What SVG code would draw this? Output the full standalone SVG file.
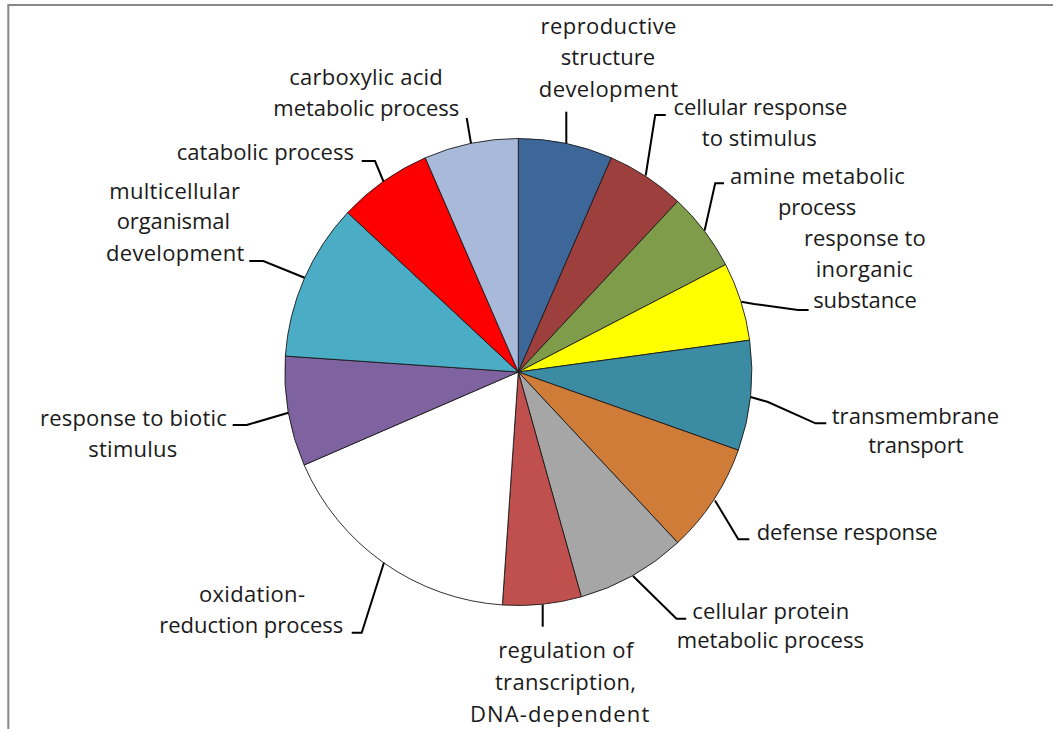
<svg xmlns="http://www.w3.org/2000/svg" width="1053" height="729" viewBox="0 0 1053 729">
<style>
.s{stroke:#1a1a1a;stroke-width:0.9;stroke-linejoin:round}
.t{font-family:"Open Sans","Liberation Sans",sans-serif;font-size:22px;fill:#1a1a1a}
.l{fill:none;stroke:#000;stroke-width:2;stroke-linejoin:miter}
</style>
<rect x="0" y="0" width="1053" height="729" fill="#fff"/>
<path d="M8.3,729 V5 H1053" fill="none" stroke="#878787" stroke-width="2"/>
<g id="reproductive-structure-development">
<path class="s" fill="#3D6699" d="M518.3,372 L518.3,138.5 A233.5,233.5 0 0 1 611.33,157.83 Z"/>
<text class="t" x="540.6" y="34" textLength="135.8" lengthAdjust="spacing">reproductive</text>
<text class="t" x="560.7" y="65" textLength="94.5" lengthAdjust="spacing">structure</text>
<text class="t" x="538.8" y="96.5" textLength="139.3" lengthAdjust="spacing">development</text>
</g>
<g id="cellular-response-to-stimulus">
<path class="s" fill="#9D403D" d="M518.3,372 L611.33,157.83 A233.5,233.5 0 0 1 677.68,201.35 Z"/>
<text class="t" x="673.5" y="115" textLength="173.9" lengthAdjust="spacing">cellular response</text>
<text class="t" x="701.8" y="145.5" textLength="115" lengthAdjust="spacing">to stimulus</text>
</g>
<g id="amine-metabolic-process">
<path class="s" fill="#7E9C4A" d="M518.3,372 L677.68,201.35 A233.5,233.5 0 0 1 725.62,264.57 Z"/>
<text class="t" x="730" y="184.3" textLength="174.9" lengthAdjust="spacing">amine metabolic</text>
<text class="t" x="778" y="215" textLength="78.3" lengthAdjust="spacing">process</text>
</g>
<g id="response-to-inorganic-substance">
<path class="s" fill="#FFFF00" d="M518.3,372 L725.62,264.57 A233.5,233.5 0 0 1 749.63,340.2 Z"/>
<text class="t" x="804" y="246" textLength="121.7" lengthAdjust="spacing">response to</text>
<text class="t" x="815.7" y="276.7" textLength="97" lengthAdjust="spacing">inorganic</text>
<text class="t" x="813.2" y="308.3" textLength="103.7" lengthAdjust="spacing">substance</text>
</g>
<g id="transmembrane-transport">
<path class="s" fill="#3B8BA3" d="M518.3,372 L749.63,340.2 A233.5,233.5 0 0 1 738.32,450.19 Z"/>
<text class="t" x="831.7" y="423.5" textLength="167.3" lengthAdjust="spacing">transmembrane</text>
<text class="t" x="868.3" y="452.7" textLength="95" lengthAdjust="spacing">transport</text>
</g>
<g id="defense-response">
<path class="s" fill="#CE7C38" d="M518.3,372 L738.32,450.19 A233.5,233.5 0 0 1 677.68,542.65 Z"/>
<text class="t" x="756.7" y="540" textLength="181" lengthAdjust="spacing">defense response</text>
</g>
<g id="cellular-protein-metabolic-process">
<path class="s" fill="#A6A6A6" d="M518.3,372 L677.68,542.65 A233.5,233.5 0 0 1 581.3,596.84 Z"/>
<text class="t" x="692.3" y="619.3" textLength="157" lengthAdjust="spacing">cellular protein</text>
<text class="t" x="676.7" y="648.3" textLength="187.3" lengthAdjust="spacing">metabolic process</text>
</g>
<g id="regulation-of-transcription">
<path class="s" fill="#C0504D" d="M518.3,372 L581.3,596.84 A233.5,233.5 0 0 1 502.37,604.96 Z"/>
<text class="t" x="498.3" y="658.3" textLength="135" lengthAdjust="spacing">regulation of</text>
<text class="t" x="495" y="690" textLength="141" lengthAdjust="spacing">transcription,</text>
<text class="t" x="470" y="721.7" textLength="179.3" lengthAdjust="spacing">DNA-dependent</text>
</g>
<g id="oxidation-reduction-process">
<path class="s" fill="#FFFFFF" d="M518.3,372 L502.37,604.96 A233.5,233.5 0 0 1 304.13,465.03 Z"/>
<text class="t" x="199" y="601.7" textLength="106" lengthAdjust="spacing">oxidation-</text>
<text class="t" x="159.3" y="632.7" textLength="184" lengthAdjust="spacing">reduction process</text>
</g>
<g id="response-to-biotic-stimulus">
<path class="s" fill="#7F62A0" d="M518.3,372 L304.13,465.03 A233.5,233.5 0 0 1 285.34,356.07 Z"/>
<text class="t" x="40" y="426" textLength="186.7" lengthAdjust="spacing">response to biotic</text>
<text class="t" x="88.3" y="456.7" textLength="89" lengthAdjust="spacing">stimulus</text>
</g>
<g id="multicellular-organismal-development">
<path class="s" fill="#4BACC6" d="M518.3,372 L285.34,356.07 A233.5,233.5 0 0 1 347.65,212.62 Z"/>
<text class="t" x="109.3" y="198.5" textLength="130.7" lengthAdjust="spacing">multicellular</text>
<text class="t" x="116.7" y="228.5" textLength="113.3" lengthAdjust="spacing">organismal</text>
<text class="t" x="106" y="260.5" textLength="138.3" lengthAdjust="spacing">development</text>
</g>
<g id="catabolic-process">
<path class="s" fill="#FF0000" d="M518.3,372 L347.65,212.62 A233.5,233.5 0 0 1 425.27,157.83 Z"/>
<text class="t" x="176.7" y="160" textLength="177.3" lengthAdjust="spacing">catabolic process</text>
</g>
<g id="carboxylic-acid-metabolic-process">
<path class="s" fill="#A9B9D9" d="M518.3,372 L425.27,157.83 A233.5,233.5 0 0 1 518.3,138.5 Z"/>
<text class="t" x="289.3" y="85" textLength="153.4" lengthAdjust="spacing">carboxylic acid</text>
<text class="t" x="273.3" y="115.5" textLength="186" lengthAdjust="spacing">metabolic process</text>
</g>
<g id="connectors">
<polyline class="l" points="566.3,111.7 566.3,143.5"/>
<polyline class="l" points="665.8,115 655.2,115 645.7,175.5"/>
<polyline class="l" points="724,183.3 715.2,183.3 704.6,230.5"/>
<polyline class="l" points="741.4,301.7 754,304 798,310 808.6,310"/>
<polyline class="l" points="750.6,397 768,402 815.5,423.3 826.3,423.3"/>
<polyline class="l" points="715,500.5 738.3,539.3 749.3,539.3"/>
<polyline class="l" points="633,576 676.5,618.7 686.2,618.7"/>
<polyline class="l" points="542.7,604.5 542.7,626.7"/>
<polyline class="l" points="384,562.5 361.7,632.7 351.7,632.7"/>
<polyline class="l" points="288.4,412.7 246.7,425 232.7,425"/>
<polyline class="l" points="304.6,277.8 263.3,261 249.3,261"/>
<polyline class="l" points="383.5,181.5 375,161 361.7,161"/>
<polyline class="l" points="471,143.4 466.7,118"/>
</g>
</svg>
